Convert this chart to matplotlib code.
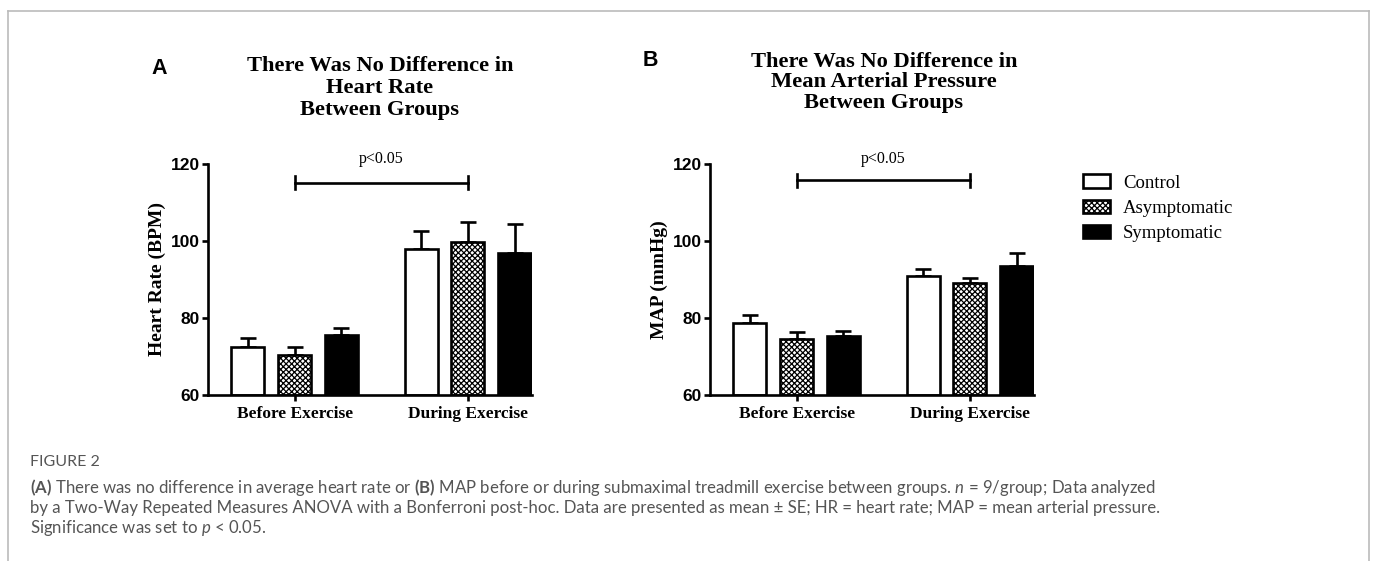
import matplotlib
matplotlib.use("Agg")
import matplotlib.pyplot as plt
from matplotlib.lines import Line2D
import numpy as np

# ---- data ----
timepoints = ["Before Exercise", "During Exercise"]
groups = ["Control", "Asymptomatic", "Symptomatic"]

hr_mean = {"Control": [72.5, 97.9], "Asymptomatic": [70.4, 99.7], "Symptomatic": [75.6, 96.9]}
hr_se = {"Control": [2.3, 4.7], "Asymptomatic": [2.1, 5.2], "Symptomatic": [1.8, 7.5]}
map_mean = {"Control": [78.7, 90.9], "Asymptomatic": [74.5, 89.1], "Symptomatic": [75.3, 93.5]}
map_se = {"Control": [2.1, 1.8], "Asymptomatic": [1.9, 1.3], "Symptomatic": [1.3, 3.4]}

y_ticks = [60, 80, 100, 120]
sig_text = "p<0.05"
sig_level = {"A": 115.1, "B": 115.8}

# ---- style ----
W, H = 1375, 561
fig = plt.figure(figsize=(W / 100, H / 100), dpi=100)
plt.rcParams["hatch.linewidth"] = 0.9

serif = "Liberation Serif"
sans = "Liberation Sans"
lw = 1.9

styles = {
    "Control": dict(facecolor="white", hatch=None),
    "Asymptomatic": dict(facecolor="white", hatch="xxxxxx"),
    "Symptomatic": dict(facecolor="black", hatch=None),
}

offsets = [-0.27, 0.0, 0.27]
bar_w = 0.19


def px(x, y):
    return x / W, 1 - y / H


def panel(ax, means, ses, ylabel, sig_y):
    x = np.arange(len(timepoints))
    handles = []
    for g, off in zip(groups, offsets):
        st = styles[g]
        b = ax.bar(x + off, np.array(means[g]) - 60, bar_w, bottom=60,
                   facecolor=st["facecolor"], edgecolor="black", linewidth=lw,
                   hatch=st["hatch"], label=g, zorder=2)
        ax.errorbar(x + off, means[g], yerr=[np.zeros(len(x)), ses[g]],
                    fmt="none", ecolor="black", elinewidth=lw, capsize=5.5,
                    capthick=lw, zorder=1)
        handles.append(b)
    ax.set_xlim(-0.5, 1.37)
    ax.set_ylim(60, 120)
    ax.set_yticks(y_ticks)
    ax.set_yticklabels([str(t) for t in y_ticks], fontfamily=sans,
                       fontweight="bold", fontsize=12.5)
    ax.set_xticks(x)
    ax.set_xticklabels(timepoints, fontfamily=serif, fontweight="bold",
                       fontsize=12.5)
    ax.tick_params(axis="y", length=4, width=lw, pad=2)
    ax.tick_params(axis="x", length=4, width=lw, pad=4)
    for s in ["top", "right"]:
        ax.spines[s].set_visible(False)
    for s in ["left", "bottom"]:
        ax.spines[s].set_linewidth(lw)
    ax.set_ylabel(ylabel, fontfamily=serif, fontweight="bold", fontsize=14,
                  labelpad=3)
    # significance bracket
    ax.plot([0, 1], [sig_y, sig_y], color="black", lw=lw, clip_on=False)
    for xx in [0, 1]:
        ax.plot([xx, xx], [sig_y - 1.7, sig_y + 1.7], color="black", lw=lw,
                clip_on=False)
    ax.text(0.5, 121.3, sig_text, ha="center", va="center", fontfamily=serif,
            fontsize=11.5, clip_on=False)
    return handles


axA = fig.add_axes([208 / W, 1 - 395 / H, 324 / W, 231 / H])
axB = fig.add_axes([710 / W, 1 - 395 / H, 324 / W, 231 / H])

panel(axA, hr_mean, hr_se, "Heart Rate (BPM)", sig_level["A"])
handles = panel(axB, map_mean, map_se, "MAP (mmHg)", sig_level["B"])

# titles and panel letters
fig.text(*px(380, 56), "There Was No Difference in\nHeart Rate\nBetween Groups",
         ha="center", va="top", fontfamily=serif, fontweight="bold",
         fontsize=16.2, linespacing=1.12)
fig.text(*px(884, 52), "There Was No Difference in\nMean Arterial Pressure\nBetween Groups",
         ha="center", va="top", fontfamily=serif, fontweight="bold",
         fontsize=16.2, linespacing=1.02)
fig.text(*px(159, 68), "A", ha="center", va="center", fontfamily=sans,
         fontweight="bold", fontsize=15.5)
fig.text(*px(650, 60), "B", ha="center", va="center", fontfamily=sans,
         fontweight="bold", fontsize=15.5)

# legend
fig.legend(handles=handles, labels=groups, loc="upper left",
           bbox_to_anchor=px(1075, 167), frameon=False,
           prop={"family": serif, "size": 13.5}, handlelength=1.45,
           handleheight=0.72, labelspacing=0.42, handletextpad=0.7,
           borderaxespad=0)

# caption
plt.rcParams["mathtext.fontset"] = "custom"
plt.rcParams["mathtext.rm"] = "Lato"
plt.rcParams["mathtext.it"] = "Lato:italic"
plt.rcParams["mathtext.bf"] = "Lato:bold"
cap_col = "#555555"
fig.text(*px(30, 462), "FIGURE 2", ha="left", va="center", fontfamily="Lato",
         fontsize=11.5, color=cap_col)
cap_lines = [
    r"$\mathbf{(A)}$ There was no difference in average heart rate or $\mathbf{(B)}$ MAP before or during submaximal treadmill exercise between groups. $\mathit{n}$ = 9/group; Data analyzed",
    "by a Two-Way Repeated Measures ANOVA with a Bonferroni post-hoc. Data are presented as mean \u00b1 SE; HR = heart rate; MAP = mean arterial pressure.",
    r"Significance was set to $\mathit{p}$ < 0.05.",
]
for i, line in enumerate(cap_lines):
    fig.text(*px(30, 488 + 20 * i), line, ha="left", va="center",
             fontfamily="Lato", fontsize=12.1, color=cap_col)

# frame
fc = "#bbbbbb"
fig.add_artist(Line2D([8 / W, 8 / W], [0, 1 - 11 / H], color=fc, lw=1.2,
                      transform=fig.transFigure))
fig.add_artist(Line2D([8 / W, 1369 / W], [1 - 11 / H, 1 - 11 / H], color=fc,
                      lw=1.2, transform=fig.transFigure))
fig.add_artist(Line2D([1369 / W, 1369 / W], [0, 1 - 11 / H], color=fc, lw=1.2,
                      transform=fig.transFigure))

fig.savefig("out.png", dpi=100, facecolor="white")
